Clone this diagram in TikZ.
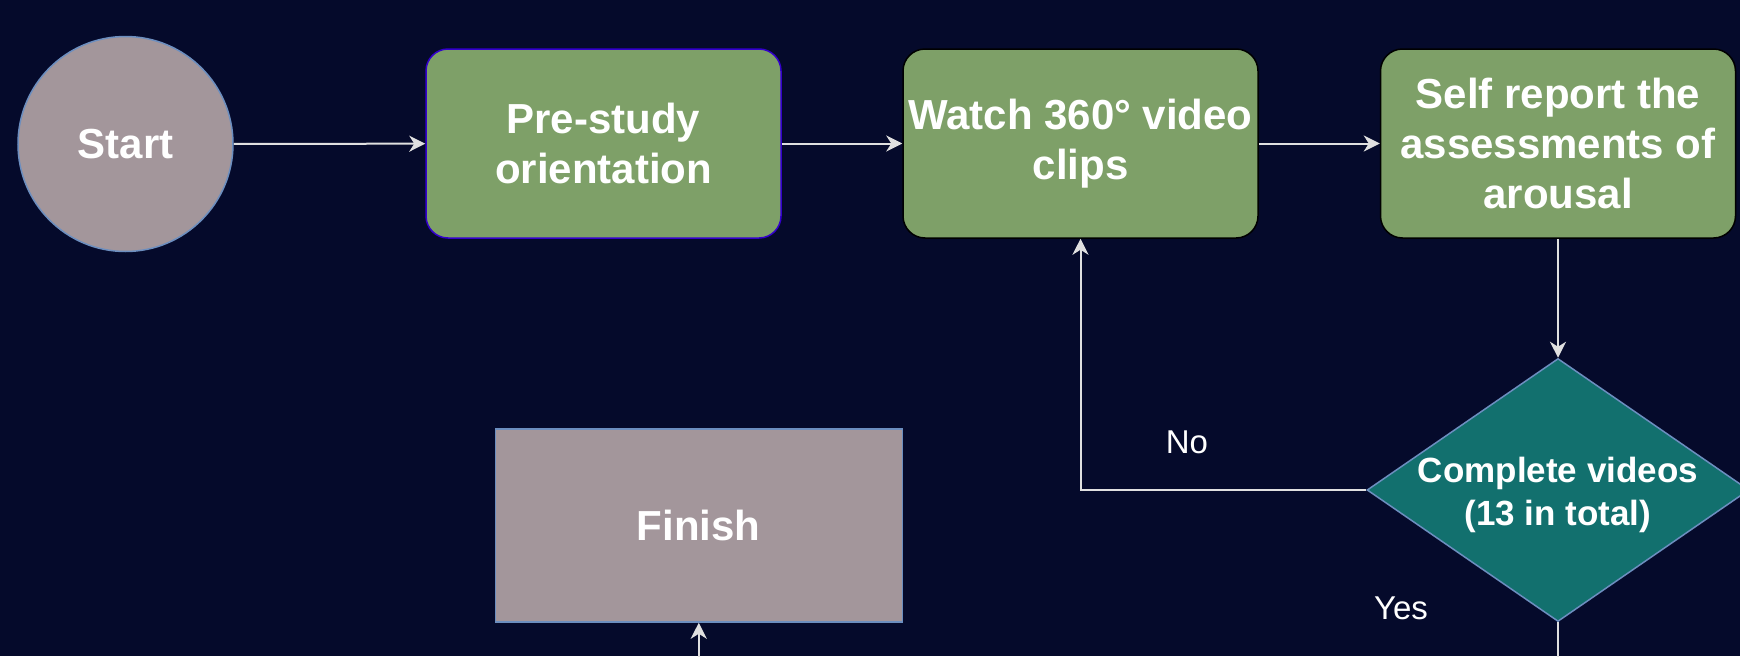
\documentclass[tikz,border=0pt]{standalone}
\usepackage{fontspec}
\setmainfont{Liberation Sans}
\usetikzlibrary{shapes.geometric,arrows.meta}
\definecolor{bgnavy}{HTML}{050A2B}
\definecolor{boxgreen}{HTML}{7EA068}
\definecolor{termgray}{HTML}{A3969B}
\definecolor{decteal}{HTML}{12706E}
\definecolor{edgeblue}{HTML}{6C8EBF}
\definecolor{edgepurple}{HTML}{3300CC}
\definecolor{linegray}{HTML}{E0E0E0}
\tikzset{
  x=1pt, y=-1pt,
  bigtext/.style={text=white, font=\fontsize{42}{50}\selectfont\bfseries, align=center},
  greenbox/.style={bigtext, rounded corners=22pt, fill=boxgreen, draw=black, line width=1.5pt,
    minimum width=355pt, minimum height=189pt, inner sep=0pt},
  startnode/.style={bigtext, circle, fill=termgray, draw=edgeblue, line width=1.5pt,
    minimum size=215pt, inner sep=0pt},
  finishbox/.style={bigtext, rectangle, fill=termgray, draw=edgeblue, line width=1.5pt,
    minimum width=407pt, minimum height=193pt, inner sep=0pt},
  decision/.style={diamond, fill=decteal, draw=edgeblue, line width=1.5pt,
    minimum width=382pt, minimum height=263pt, inner sep=0pt},
  dectext/.style={text=white, font=\fontsize{35}{43}\selectfont\bfseries, align=center},
  edgelabel/.style={text=white, font=\fontsize{33}{40}\selectfont},
  flow/.style={draw=linegray, line width=2pt, -{Stealth[length=16pt, width=16pt, inset=5pt]}},
  plainflow/.style={draw=linegray, line width=2pt},
}
\begin{document}
\begin{tikzpicture}
\useasboundingbox (0,0) rectangle (1740,656);
\fill[bgnavy] (0,0) rectangle (1740,656);
\clip (0,0) rectangle (1740,656);

\node[startnode] (start) at (125.5,144) {Start};
\node[greenbox, draw=edgepurple] (pre) at (603.5,143.5) {Pre-study\\orientation};
\node[greenbox] (watch) at (1080.5,143.5) {Watch 360° video\\clips};
\node[greenbox] (self) at (1558,143.5) {Self report the\\assessments of\\arousal};
\node[decision] (dec) at (1558,490) {};
\node[dectext] (dect) at ([yshift=-5pt]dec.center) {Complete videos\\(13 in total)};
\node[finishbox] (finish) at (698.75,525.5) {Finish};

\coordinate (yesend) at (1558,670);
\coordinate (finstart) at (698.75,670);

\draw[flow] (start) -- (pre);
\draw[flow] (pre) -- (watch);
\draw[flow] (watch) -- (self);
\draw[flow] (self) -- (dec);
\draw[flow] (dec.west) -| (watch.south);
\draw[plainflow] (dec.south) -- (yesend);
\draw[flow] (finstart) -- (finish.south);

\node[edgelabel] (nolab) at (1187,442) {No};
\node[edgelabel] (yeslab) at (1401,608) {Yes};
\end{tikzpicture}
\end{document}
